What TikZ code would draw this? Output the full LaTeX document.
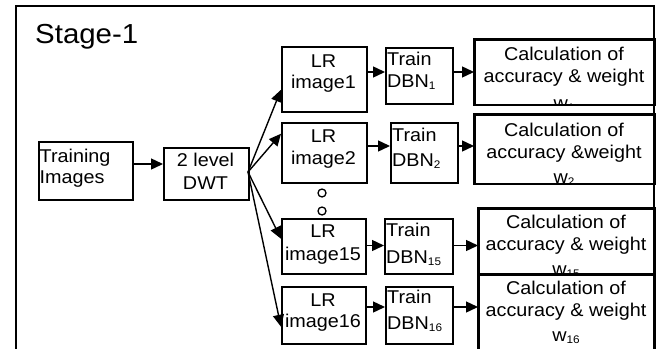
\documentclass[tikz,border=0pt]{standalone}
\usepackage{fontspec}
\setmainfont{Liberation Sans}[FakeStretch=1.07]
\usetikzlibrary{arrows.meta}
\newcommand\sbs[1]{\raisebox{-2pt}{\fontsize{11}{12}\selectfont #1}}
\begin{document}
\begin{tikzpicture}[x=1pt,y=-1pt,
 box/.style={draw, line width=1.5pt, inner sep=0pt, anchor=north west},
 txt/.style={inner sep=0pt, font=\fontsize{18.5}{21}\selectfont},
 arr/.style={line width=1.4pt, -{Triangle[length=12pt,width=11pt]}},
 dot/.style={circle, draw, line width=1.3pt, minimum size=8pt, inner sep=0pt}]
\useasboundingbox (0,0) rectangle (658,348);
\clip (0,0) rectangle (658,348);
% frame
\draw[line width=1.6pt] (16,352) -- (16,6) -- (654,6) -- (654,352);
\node[inner sep=0pt, font=\fontsize{27.5}{30}\selectfont, anchor=base west] (stage) at (35,43) {Stage-1};

% boxes
\node[box, minimum width=94pt, minimum height=58pt] (train) at (38,141) {};
\node[box, minimum width=85pt, minimum height=52pt] (dwt) at (163,147) {};
\node[box, minimum width=85pt, minimum height=65pt] (lr1) at (281,46) {};
\node[box, minimum width=85pt, minimum height=60pt] (lr2) at (281,122) {};
\node[box, minimum width=84pt, minimum height=55pt] (lr15) at (281,218) {};
\node[box, minimum width=84pt, minimum height=57pt] (lr16) at (281,286) {};
\node[box, minimum width=67pt, minimum height=56pt] (dbn1) at (385,47) {};
\node[box, minimum width=67pt, minimum height=60pt] (dbn2) at (390,122) {};
\node[box, minimum width=68pt, minimum height=55pt] (dbn15) at (384,218) {};
\node[box, minimum width=67pt, minimum height=57pt] (dbn16) at (385,286) {};
\node[box, minimum width=180pt, minimum height=64.5pt] (calc1) at (474,39) {};
\node[box, minimum width=180pt, minimum height=68.5pt] (calc2) at (474,114) {};
\node[box, minimum width=176pt, minimum height=66pt] (calc15) at (478,208) {};
\node[box, minimum width=176pt, minimum height=86pt] (calc16) at (478,274) {};

% texts
\node[txt, anchor=base west] (trainA) at (39.5,162) {Training};
\node[txt, anchor=base west] (trainB) at (39.5,183) {Images};
\node[txt, anchor=base] (dwtA) at (205.5,166) {2 level};
\node[txt, anchor=base] (dwtB) at (205.5,189) {DWT};

\node[txt, anchor=base] (lr1A) at (323.5,67) {LR};
\node[txt, anchor=base] (lr1B) at (323.5,88.5) {image1};
\node[txt, anchor=base] (lr2A) at (323.5,142) {LR};
\node[txt, anchor=base] (lr2B) at (323.5,164) {image2};
\node[txt, anchor=base] (lr15A) at (323,237.3) {LR};
\node[txt, anchor=base] (lr15B) at (323,260) {image15};
\node[txt, anchor=base] (lr16A) at (323,306.7) {LR};
\node[txt, anchor=base] (lr16B) at (323,327.5) {image16};

\node[txt, anchor=base west] (dbn1A) at (387,65) {Train};
\node[txt, anchor=base west] (dbn1B) at (387,87) {DBN\sbs{1}};
\node[txt, anchor=base west] (dbn2A) at (392,141.7) {Train};
\node[txt, anchor=base west] (dbn2B) at (392,166.7) {DBN\sbs{2}};
\node[txt, anchor=base west] (dbn15A) at (386,236.7) {Train};
\node[txt, anchor=base west] (dbn15B) at (386,263) {DBN\sbs{15}};
\node[txt, anchor=base west] (dbn16A) at (387,303.3) {Train};
\node[txt, anchor=base west] (dbn16B) at (387,329.3) {DBN\sbs{16}};

\begin{scope}
\clip (calc1.north west) rectangle (calc1.south east);
\node[txt, anchor=base] (c1A) at (564,60.7) {Calculation of};
\node[txt, anchor=base] (c1B) at (564,82.3) {accuracy \& weight};
\node[txt, anchor=base] (c1C) at (564,109) {w\sbs{1}};
\end{scope}
\begin{scope}
\clip (calc2.north west) rectangle (calc2.south east);
\node[txt, anchor=base] (c2A) at (564,136.7) {Calculation of};
\node[txt, anchor=base] (c2B) at (564,158.3) {accuracy \&weight};
\node[txt, anchor=base] (c2C) at (564,183) {w\sbs{2}};
\end{scope}
\begin{scope}
\clip (calc15.north west) rectangle (calc15.south east);
\node[txt, anchor=base] (c15A) at (566,228.3) {Calculation of};
\node[txt, anchor=base] (c15B) at (566,250) {accuracy \& weight};
\node[txt, anchor=base] (c15C) at (566,275) {w\sbs{15}};
\end{scope}
\begin{scope}
\clip (calc16.north west) rectangle (calc16.south east);
\node[txt, anchor=base] (c16A) at (566,294) {Calculation of};
\node[txt, anchor=base] (c16B) at (566,316.7) {accuracy \& weight};
\node[txt, anchor=base] (c16C) at (566,341.7) {w\sbs{16}};
\end{scope}
% redraw box borders over clipped text
\foreach \b in {calc1,calc2,calc15,calc16}{\draw[line width=1.5pt] (\b.north west) rectangle (\b.south east);}

% dots
\node[dot] (d1) at (322,193) {};
\node[dot] (d2) at (322,211) {};

% row coordinates
\coordinate (y0) at (0,164);
\coordinate (y1) at (0,72);
\coordinate (y2) at (0,146);
\coordinate (y15) at (0,245.5);
\coordinate (y16) at (0,307);
\coordinate (fan) at (248,172);

% arrows
\draw[arr] (train.east |- y0) -- (dwt.west |- y0);
\draw[arr] (fan) -- ([yshift=-10.5pt]lr1.west);
\draw[arr] (fan) -- ([yshift=19pt]lr2.west);
\draw[arr] (fan) -- ([yshift=7.5pt]lr15.west);
\draw[arr] (fan) -- ([yshift=-11.5pt]lr16.west);
\draw[arr] (lr1.east |- y1) -- (dbn1.west |- y1);
\draw[arr] (dbn1.east |- y1) -- (calc1.west |- y1);
\draw[arr] (lr2.east |- y2) -- (dbn2.west |- y2);
\draw[arr] (dbn2.east |- y2) -- (calc2.west |- y2);
\draw[arr] (lr15.east |- y15) -- (dbn15.west |- y15);
\draw[arr] (dbn15.east |- y15) -- (calc15.west |- y15);
\draw[arr] (lr16.east |- y16) -- (dbn16.west |- y16);
\draw[arr] (dbn16.east |- y16) -- (calc16.west |- y16);
\end{tikzpicture}
\end{document}
